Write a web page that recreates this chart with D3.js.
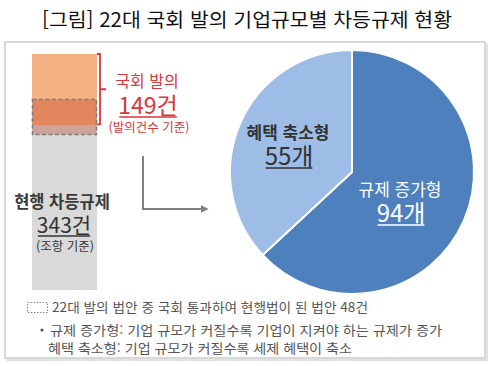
<!DOCTYPE html>
<html lang="ko">
<head>
<meta charset="utf-8">
<title>22대 국회 발의 기업규모별 차등규제 현황</title>
<script src="https://cdn.jsdelivr.net/npm/d3@7"></script>
<style>
  html, body { margin: 0; padding: 0; background: #fff; }
  svg { display: block; font-family: "Noto Sans CJK KR", "Noto Sans", sans-serif; }
</style>
</head>
<body>
<div id="chart"></div>
<script>
// data
var stackNames = ["현행 차등규제", "국회 발의"];
var stackValues = [343, 149];
var passedCount = 48;

var pieNames = ["규제 증가형", "혜택 축소형"];
var pieValues = [94, 55];
var pieUnits = ["개", "개"];

var footNotes = [
  "22대 발의 법안 중 국회 통과하여 현행법이 된 법안 48건",
  "규제 증가형: 기업 규모가 커질수록  기업이 지켜야 하는 규제가 증가",
  "혜택 축소형: 기업 규모가 커질수록 세제 혜택이 축소"
];

var w = 491, h = 366;
var red = "#d9363e";

var svg = d3.select("#chart").append("svg")
  .attr("width", w).attr("height", h);

// title
svg.append("text")
  .attr("x", 247).attr("y", 27)
  .attr("text-anchor", "middle")
  .attr("font-size", 19.5)
  .attr("fill", "#111")
  .attr("textLength", 410)
  .attr("lengthAdjust", "spacingAndGlyphs")
  .text("[그림] 22대 국회 발의 기업규모별 차등규제 현황");

// frame with soft shadow
svg.append("rect").attr("x", 7).attr("y", 44).attr("width", 480).attr("height", 316)
  .attr("fill", "none").attr("stroke", "#e2e2e2").attr("stroke-width", 2);
svg.append("rect").attr("x", 5).attr("y", 42).attr("width", 480).attr("height", 316)
  .attr("fill", "#fff").attr("stroke", "#cfcfcf").attr("stroke-width", 1.6);

// stacked bar
var total = d3.sum(stackValues);
var y = d3.scaleLinear().domain([0, total]).range([290, 54]);
var x = d3.scaleBand().domain(["bar"]).range([32, 97]);

var stack = [];
var acc = 0;
stackValues.forEach(function(v, i) {
  stack.push({ name: stackNames[i], v0: acc, v1: acc + v });
  acc += v;
});
var barColors = ["#d9d9d9", "#f4b183"];

svg.selectAll(".bar").data(stack).enter().append("rect")
  .attr("class", "bar")
  .attr("x", x("bar"))
  .attr("width", x.bandwidth())
  .attr("y", function(d) { return y(d.v1); })
  .attr("height", function(d) { return y(d.v0) - y(d.v1); })
  .attr("fill", function(d, i) { return barColors[i]; });

// dashed box for laws passed (overlay)
var boxTop = y(stackValues[0] + passedCount) - 3;
var boxBottom = y(stackValues[0]) + 9;
svg.append("rect")
  .attr("x", x("bar") + 0.5).attr("width", x.bandwidth() - 1)
  .attr("y", boxTop).attr("height", boxBottom - boxTop)
  .attr("fill", "rgba(184,37,11,0.3)")
  .attr("stroke", "#7f7f7f").attr("stroke-width", 1.6)
  .attr("stroke-dasharray", "4,2.5");

// red bracket
var bx = 100;
var bTop = y(total), bBot = y(stackValues[0]) - 1;
var bMid = (bTop + bBot) / 2;
svg.append("path")
  .attr("d", "M" + (bx - 3) + "," + bTop + "H" + bx + "V" + bBot + "H" + (bx - 3)
    + "M" + bx + "," + bMid + "H" + (bx + 6))
  .attr("fill", "none").attr("stroke", red).attr("stroke-width", 1.8);

function underline(sel, color, width, off) {
  var bb = sel.node().getBBox();
  svg.append("line")
    .attr("x1", bb.x + 1).attr("x2", bb.x + bb.width - 1)
    .attr("y1", +sel.attr("y") + off).attr("y2", +sel.attr("y") + off)
    .attr("stroke", color).attr("stroke-width", width);
}

// proposed label
svg.append("text").attr("x", 147).attr("y", 87).attr("text-anchor", "middle")
  .attr("font-size", 16).attr("fill", red).text(stackNames[1]);
var t149 = svg.append("text").attr("x", 148).attr("y", 114).attr("text-anchor", "middle")
  .attr("font-size", 23).attr("fill", red).text(stackValues[1] + "건");
underline(t149, red, 1.5, 3);
svg.append("text").attr("x", 149).attr("y", 132).attr("text-anchor", "middle")
  .attr("font-size", 12.5).attr("fill", red).text("(발의건수 기준)");

// existing label
svg.append("text").attr("x", 62).attr("y", 208).attr("text-anchor", "middle")
  .attr("font-size", 16.5).attr("font-weight", 700).attr("fill", "#3a3a3a").text(stackNames[0]);
var t343 = svg.append("text").attr("x", 64).attr("y", 233).attr("text-anchor", "middle")
  .attr("font-size", 21).attr("fill", "#333").text(stackValues[0] + "건");
underline(t343, "#333", 1.5, 3);
svg.append("text").attr("x", 65).attr("y", 251).attr("text-anchor", "middle")
  .attr("font-size", 12.5).attr("fill", "#333").text("(조항 기준)");

// arrow
svg.append("defs").append("marker")
  .attr("id", "arr").attr("viewBox", "0 0 10 10").attr("refX", 8).attr("refY", 5)
  .attr("markerWidth", 4).attr("markerHeight", 4).attr("orient", "auto")
  .append("path").attr("d", "M0,0L10,5L0,10z").attr("fill", "#7f7f7f");
svg.append("path")
  .attr("d", "M143,156V209H207")
  .attr("fill", "none").attr("stroke", "#7f7f7f").attr("stroke-width", 2)
  .attr("marker-end", "url(#arr)");

// pie
var cx = 352, cy = 172, r = 122;
var pie = d3.pie().sort(null).value(function(d) { return d; });
var arc = d3.arc().innerRadius(0).outerRadius(r);
var pieColors = ["#4e80bd", "#9dbde6"];
var arcs = pie(pieValues);
var g = svg.append("g").attr("transform", "translate(" + cx + "," + cy + ")");
g.selectAll("path").data(arcs).enter().append("path")
  .attr("d", arc)
  .attr("fill", function(d, i) { return pieColors[i]; })
  .attr("stroke", "#fff").attr("stroke-width", 2);

// pie labels
var labelPos = [[48, 24, 50], [-64, -33, -7]];
var labelColors = ["#fff", "#333"];
arcs.forEach(function(d, i) {
  var lx = cx + labelPos[i][0];
  svg.append("text").attr("x", lx).attr("y", cy + labelPos[i][1])
    .attr("text-anchor", "middle").attr("font-size", 17)
    .attr("font-weight", i === 1 ? 700 : 400)
    .attr("fill", labelColors[i]).text(pieNames[i]);
  var tv = svg.append("text").attr("x", lx + 1).attr("y", cy + labelPos[i][2])
    .attr("text-anchor", "middle").attr("font-size", 24)
    .attr("fill", labelColors[i]).text(pieValues[i] + pieUnits[i]);
  underline(tv, labelColors[i], 1.5, 3);
});

// footnotes
svg.append("rect").attr("x", 27.5).attr("y", 302.5).attr("width", 20).attr("height", 10)
  .attr("fill", "none").attr("stroke", "#8a8a8a").attr("stroke-width", 1.2)
  .attr("stroke-dasharray", "1.5,1.5");
var noteX = [52, 50, 48], noteY = [312, 335, 353], noteW = [316, 392, 304];
footNotes.forEach(function(s, i) {
  svg.append("text").attr("x", noteX[i]).attr("y", noteY[i])
    .attr("font-size", 13).attr("fill", "#555")
    .attr("textLength", noteW[i]).attr("lengthAdjust", "spacingAndGlyphs")
    .text(s);
});
svg.append("circle").attr("cx", 42).attr("cy", 330).attr("r", 1.6).attr("fill", "#555");
</script>
</body>
</html>
